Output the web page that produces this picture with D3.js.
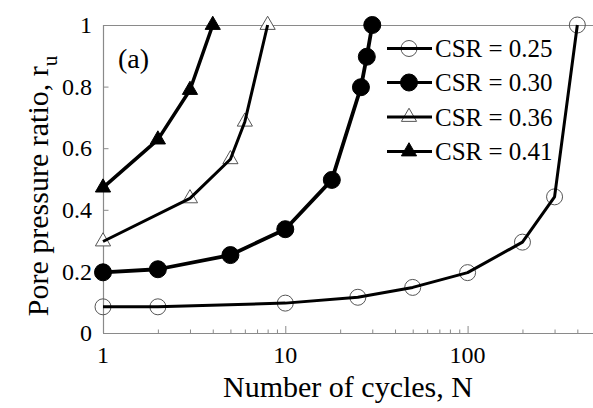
<!DOCTYPE html>
<html>
<head>
<meta charset="utf-8">
<script src="https://cdn.jsdelivr.net/npm/d3@7"></script>
<style>
  html, body { margin: 0; padding: 0; background: #fff; }
  svg { display: block; }
  text { font-family: "Liberation Serif", "Times New Roman", serif; fill: #000; }
</style>
</head>
<body>
<svg id="chart" width="593" height="408"></svg>
<script>
// Pore pressure ratio vs. number of cycles for four cyclic stress ratios
const seriesNames = ["CSR = 0.25", "CSR = 0.30", "CSR = 0.36", "CSR = 0.41"];

const cyclesCSR025 = [1, 2, 10, 25, 50, 100, 200, 300, 400];
const ruCSR025     = [0.085, 0.085, 0.097, 0.116, 0.148, 0.196, 0.295, 0.442, 1.0];

const cyclesCSR030 = [1, 2, 5, 10, 18, 26, 28, 30];
const ruCSR030     = [0.197, 0.207, 0.253, 0.337, 0.497, 0.798, 0.897, 1.0];

const cyclesCSR036 = [1, 3, 5, 6, 8];
const ruCSR036     = [0.297, 0.437, 0.564, 0.686, 1.0];

const cyclesCSR041 = [1, 2, 3, 4];
const ruCSR041     = [0.472, 0.628, 0.789, 1.0];

const yTickValues = [0, 0.2, 0.4, 0.6, 0.8, 1];
const yTickLabels = ["0", "0.2", "0.4", "0.6", "0.8", "1"];
const xMajorTicks = [1, 10, 100];
const xMinorTicks = [2, 3, 4, 5, 6, 7, 8, 9, 20, 30, 40, 50, 60, 70, 80, 90, 200, 300, 400];

const series = [
  { name: seriesNames[0], x: cyclesCSR025, y: ruCSR025, shape: "circle",   filled: false, width: 3 },
  { name: seriesNames[1], x: cyclesCSR030, y: ruCSR030, shape: "circle",   filled: true,  width: 3.8 },
  { name: seriesNames[2], x: cyclesCSR036, y: ruCSR036, shape: "triangle", filled: false, width: 3 },
  { name: seriesNames[3], x: cyclesCSR041, y: ruCSR041, shape: "triangle", filled: true,  width: 3.5 }
];

const svg = d3.select("#chart");
const plotLeft = 103, plotTop = 25, plotBottom = 333, plotRight = 595;

const x = d3.scaleLog().domain([1, 500]).range([plotLeft, plotRight]);
const y = d3.scaleLinear().domain([0, 1]).range([plotBottom, plotTop]);

const axisColor = "#8a8a8a";

// frame: top border line
svg.append("line")
  .attr("x1", plotLeft).attr("x2", 593).attr("y1", plotTop + 0.5).attr("y2", plotTop + 0.5)
  .attr("stroke", axisColor).attr("stroke-width", 1.2);

// x axis (ticks point inward)
const xAxis = svg.append("g").attr("transform", `translate(0,${plotBottom})`);
xAxis.call(d3.axisTop(x).tickValues(xMajorTicks).tickSize(7).tickFormat(""));
xAxis.append("g").call(d3.axisTop(x).tickValues(xMinorTicks).tickSize(3.5).tickFormat(""));
xAxis.selectAll(".domain").attr("stroke", axisColor).attr("stroke-width", 1.2);
xAxis.selectAll(".tick line").attr("stroke", axisColor).attr("stroke-width", 1);
xAxis.selectAll(".domain").attr("d", `M${plotLeft},0.5H593`);

svg.append("g").selectAll("text").data(xMajorTicks).join("text")
  .attr("x", d => x(d)).attr("y", 363)
  .attr("text-anchor", "middle")
  .attr("font-size", 24)
  .text(d => d3.format("d")(d));

// y axis (ticks point inward)
const yAxis = svg.append("g").attr("transform", `translate(${plotLeft},0)`);
yAxis.call(d3.axisRight(y).tickValues(yTickValues).tickSize(5.5).tickFormat(""));
yAxis.selectAll(".domain").attr("stroke", axisColor).attr("stroke-width", 1.2).attr("d", `M0.5,${plotTop}V${plotBottom}`);
yAxis.selectAll(".tick line").attr("stroke", axisColor).attr("stroke-width", 1);

svg.append("g").selectAll("text").data(yTickValues).join("text")
  .attr("x", 92).attr("y", d => y(d))
  .attr("dy", "0.34em")
  .attr("text-anchor", "end")
  .attr("font-size", 24)
  .text((d, i) => yTickLabels[i]);

// axis titles
svg.append("text")
  .attr("x", 348).attr("y", 397)
  .attr("text-anchor", "middle")
  .attr("font-size", 30)
  .text("Number of cycles, N");

const yTitle = svg.append("text")
  .attr("transform", "translate(48,186) rotate(-90)")
  .attr("text-anchor", "middle")
  .attr("font-size", 30);
yTitle.append("tspan").text("Pore pressure ratio, r");
yTitle.append("tspan").attr("font-size", 21).attr("dy", 9).text("u");

// panel label
svg.append("text")
  .attr("x", 118).attr("y", 68)
  .attr("font-size", 28)
  .text("(a)");

// markers
const triangle = d3.symbol().type(d3.symbolTriangle).size(100);
function drawMarker(g, s, cx, cy) {
  if (s.shape === "circle") {
    g.append("circle")
      .attr("cx", cx).attr("cy", cy)
      .attr("r", s.filled ? 8.5 : 8)
      .attr("fill", s.filled ? "#000" : "none")
      .attr("stroke", s.filled ? "#000" : "#555")
      .attr("stroke-width", 1);
  } else {
    g.append("path")
      .attr("d", triangle())
      .attr("transform", `translate(${cx},${cy})`)
      .attr("fill", s.filled ? "#000" : "#fff")
      .attr("stroke", s.filled ? "#000" : "#555")
      .attr("stroke-width", 1);
  }
}

const line = d3.line().x(d => x(d[0])).y(d => y(d[1]));

series.forEach(s => {
  const pts = s.x.map((v, i) => [v, s.y[i]]);
  const g = svg.append("g");
  const markersBelow = g.append("g");
  g.append("path")
    .attr("d", line(pts))
    .attr("fill", "none")
    .attr("stroke", "#000")
    .attr("stroke-width", s.width)
    .attr("stroke-linejoin", "round");
  const markersAbove = g.append("g");
  pts.forEach(p => drawMarker(s.filled ? markersAbove : markersBelow, s, x(p[0]), y(p[1])));
});

// legend
const legendRows = [48.5, 82.5, 117, 151.5];
const legend = svg.append("g");
series.forEach((s, i) => {
  const ly = legendRows[i];
  const lb = legend.append("g");
  if (!s.filled) drawMarker(lb, s, 409, ly);
  lb.append("line")
    .attr("x1", 387).attr("x2", 432).attr("y1", ly).attr("y2", ly)
    .attr("stroke", "#000").attr("stroke-width", 3);
  if (s.filled) drawMarker(lb, s, 409, ly);
  lb.append("text")
    .attr("x", 435).attr("y", ly)
    .attr("dy", "0.34em")
    .attr("font-size", 25)
    .text(s.name);
});
</script>
</body>
</html>
